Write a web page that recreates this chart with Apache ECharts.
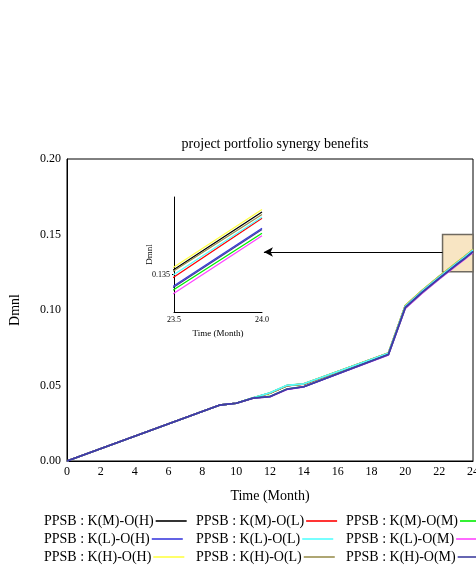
<!DOCTYPE html>
<html>
<head>
<meta charset="utf-8">
<script src="https://cdn.jsdelivr.net/npm/echarts@6/dist/echarts.min.js"></script>
<style>
  html, body { margin: 0; padding: 0; background: #fff; }
  #chart { width: 476px; height: 567px; }
</style>
</head>
<body>
<div id="chart"></div>
<script>
// Simulation time points (months)
var times = [0, 9, 10, 11, 12, 13, 14, 19, 20, 21, 22, 23, 23.5, 24];

// Synergy benefit trajectories (Dmnl) per scenario
var kmOh = [0, 0.0370, 0.0382, 0.0417, 0.0450, 0.0499, 0.0510, 0.0715, 0.1029, 0.1130, 0.1222, 0.1311, 0.1354, 0.1400];
var kmOl = [0, 0.0370, 0.0382, 0.0417, 0.0449, 0.0498, 0.0509, 0.0712, 0.1023, 0.1124, 0.1216, 0.1305, 0.1348, 0.1395];
var kmOm = [0, 0.0370, 0.0382, 0.0417, 0.0428, 0.0477, 0.0493, 0.0703, 0.1013, 0.1114, 0.1206, 0.1295, 0.1338, 0.1383];
var klOh = [0, 0.0370, 0.0382, 0.0417, 0.0427, 0.0476, 0.0492, 0.0706, 0.1017, 0.1118, 0.1210, 0.1299, 0.1341, 0.1387];
var klOl = [0, 0.0370, 0.0382, 0.0418, 0.0452, 0.0501, 0.0511, 0.0713, 0.1025, 0.1126, 0.1218, 0.1307, 0.1350, 0.1396];
var klOm = [0, 0.0370, 0.0382, 0.0416, 0.0425, 0.0474, 0.0491, 0.0702, 0.1011, 0.1112, 0.1204, 0.1293, 0.1335, 0.1381];
var khOh = [0, 0.0370, 0.0382, 0.0417, 0.0451, 0.0500, 0.0511, 0.0716, 0.1031, 0.1132, 0.1224, 0.1313, 0.1356, 0.1402];
var khOl = [0, 0.0370, 0.0382, 0.0418, 0.0451, 0.0500, 0.0511, 0.0714, 0.1028, 0.1129, 0.1221, 0.1310, 0.1353, 0.1398];
var khOm = [0, 0.0370, 0.0382, 0.0416, 0.0426, 0.0475, 0.0492, 0.0705, 0.1016, 0.1117, 0.1209, 0.1298, 0.1340, 0.1386];

var seriesNames = [
  'PPSB : K(M)-O(H)', 'PPSB : K(M)-O(L)', 'PPSB : K(M)-O(M)',
  'PPSB : K(L)-O(H)', 'PPSB : K(L)-O(L)', 'PPSB : K(L)-O(M)',
  'PPSB : K(H)-O(H)', 'PPSB : K(H)-O(L)', 'PPSB : K(H)-O(M)'
];
var seriesValues = [kmOh, kmOl, kmOm, klOh, klOl, klOm, khOh, khOl, khOm];
var seriesColors = ['#000000', '#ff0000', '#00ee00', '#3b3bdd', '#55ffff', '#ff44ff', '#ffff44', '#9a9050', '#3f3f9f'];

// Main axes ticks and zoom window
var xTicks = { min: 0, max: 24, step: 2 };
var yTicks = { min: 0, max: 0.2, step: 0.05 };
var zoomX = [23.5, 24];
var zoomY = [0.132, 0.1412];
var zoomYLabel = [0.135];
var zoomBox = { x: [22.2, 24], y: [0.1254, 0.150] };
var arrowY = 0.1384;
var arrowX = [22.2, 11.64];

var FONT = '"Liberation Serif", "Times New Roman", serif';

function pairs(vals) {
  return times.map(function (t, i) { return [t, vals[i]]; });
}

var series = [];
// zoom box and pointer arrow behind the curves
series.push({
  type: 'line', xAxisIndex: 0, yAxisIndex: 0, data: [], z: 1, silent: true,
  markArea: {
    silent: true,
    itemStyle: { color: '#f8e5c3', borderColor: '#6f6a60', borderWidth: 1.5 },
    data: [[{ coord: [zoomBox.x[0], zoomBox.y[0]] }, { coord: [zoomBox.x[1], zoomBox.y[1]] }]]
  },
  markLine: {
    silent: true,
    symbol: ['none', 'arrow'],
    symbolSize: [7, 9],
    label: { show: false },
    lineStyle: { color: '#000', width: 1, type: 'solid' },
    data: [[{ coord: [arrowX[0], arrowY] }, { coord: [arrowX[1], arrowY] }]]
  }
});

// darker scenarios are painted last
var drawOrder = [1, 0, 6, 7, 4, 2, 5, 3, 8];
// main plot
drawOrder.forEach(function (i) {
  series.push({
    name: seriesNames[i], type: 'line', xAxisIndex: 0, yAxisIndex: 0,
    data: pairs(seriesValues[i]), showSymbol: false, symbol: 'none', z: 3,
    lineStyle: { color: seriesColors[i], width: 1.6 }, itemStyle: { color: seriesColors[i] },
    animation: false
  });
});
// inset plot
drawOrder.forEach(function (i) {
  series.push({
    name: seriesNames[i], type: 'line', xAxisIndex: 1, yAxisIndex: 1,
    data: pairs(seriesValues[i]), showSymbol: false, symbol: 'none', z: 3, clip: true,
    lineStyle: { color: seriesColors[i], width: 1.3 }, itemStyle: { color: seriesColors[i] },
    animation: false
  });
});

// legend: three rows by three columns, text followed by line sample
var legendCols = [44, 196, 346];
var legendRows = [514, 532, 550];
var legends = [];
for (var k = 0; k < 9; k++) {
  legends.push({
    left: legendCols[k % 3], top: legendRows[Math.floor(k / 3)],
    padding: 0, align: 'right', orient: 'horizontal',
    itemWidth: 31, itemHeight: 1.6, icon: 'rect', selectedMode: false,
    textStyle: { fontFamily: FONT, fontSize: 14, color: '#000', padding: [0, -3, 0, 0] },
    data: [seriesNames[k]]
  });
}

var chart = echarts.init(document.getElementById('chart'), null, { renderer: 'canvas' });
chart.setOption({
  animation: false,
  backgroundColor: '#fff',
  title: {
    text: 'project portfolio synergy benefits', left: 270, textAlign: 'center', top: 132,
    textStyle: { fontFamily: FONT, fontSize: 14, fontWeight: 'normal', color: '#000' }
  },
  legend: legends,
  grid: [
    { left: 67, top: 159, width: 406, height: 302, show: true, borderColor: '#000', borderWidth: 1,
      backgroundColor: 'transparent', outerBoundsMode: 'none', containLabel: false },
    { left: 174, top: 197, width: 88, height: 115, show: false, outerBoundsMode: 'none', containLabel: false }
  ],
  xAxis: [
    {
      type: 'value', gridIndex: 0, min: xTicks.min, max: xTicks.max, interval: xTicks.step,
      name: 'Time (Month)', nameLocation: 'middle', nameGap: 28,
      nameTextStyle: { fontFamily: FONT, fontSize: 14, color: '#000' },
      axisLine: { show: true, lineStyle: { color: '#000', width: 1 } },
      axisTick: { show: false }, splitLine: { show: false },
      axisLabel: { fontFamily: FONT, fontSize: 12, color: '#000', margin: 5, showMaxLabel: true, hideOverlap: false }
    },
    {
      type: 'value', gridIndex: 1, min: zoomX[0], max: zoomX[1], interval: 0.5,
      name: 'Time (Month)', nameLocation: 'middle', nameGap: 17,
      nameTextStyle: { fontFamily: FONT, fontSize: 9, color: '#000' },
      axisLine: { show: true, onZero: false, lineStyle: { color: '#000', width: 1 } },
      axisTick: { show: false }, splitLine: { show: false },
      axisLabel: { fontFamily: FONT, fontSize: 8, color: '#000', margin: 4,
        formatter: function (v) { return v.toFixed(1); } }
    }
  ],
  yAxis: [
    {
      type: 'value', gridIndex: 0, min: yTicks.min, max: yTicks.max, interval: yTicks.step,
      name: 'Dmnl', nameLocation: 'middle', nameGap: 45, nameRotate: 90,
      nameTextStyle: { fontFamily: FONT, fontSize: 14, color: '#000' },
      axisLine: { show: true, lineStyle: { color: '#000', width: 1 } },
      axisTick: { show: false }, splitLine: { show: false },
      axisLabel: { fontFamily: FONT, fontSize: 12, color: '#000', margin: 6,
        formatter: function (v) { return v.toFixed(2); } }
    },
    {
      type: 'value', gridIndex: 1, min: zoomY[0], max: zoomY[1],
      name: 'Dmnl', nameLocation: 'middle', nameGap: 20, nameRotate: 90, nameMoveOverlap: false,
      nameTextStyle: { fontFamily: FONT, fontSize: 9, color: '#000' },
      axisLine: { show: true, onZero: false, lineStyle: { color: '#000', width: 1 } },
      axisTick: { show: true, length: 2, customValues: zoomYLabel, lineStyle: { color: '#000' } },
      splitLine: { show: false },
      axisLabel: { fontFamily: FONT, fontSize: 8, color: '#000', margin: 4, customValues: zoomYLabel,
        formatter: function (v) { return v.toFixed(3); } }
    }
  ],
  series: series
});
</script>
</body>
</html>
